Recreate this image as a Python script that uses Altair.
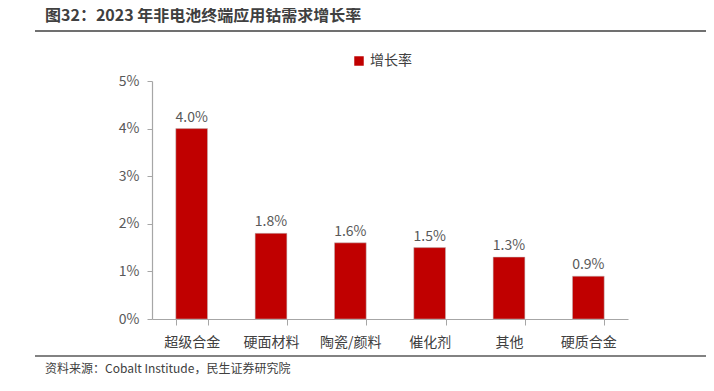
import altair as alt
import pandas as pd

categories = ["超级合金", "硬面材料", "陶瓷/颜料", "催化剂", "其他", "硬质合金"]
values = [0.040, 0.018, 0.016, 0.015, 0.013, 0.009]
labels = ["4.0%", "1.8%", "1.6%", "1.5%", "1.3%", "0.9%"]
series_name = "增长率"
title_text = "图32：2023 年非电池终端应用钴需求增长率"
source_text = "资料来源：Cobalt Institude，民生证券研究院"
y_ticks = [0, 0.01, 0.02, 0.03, 0.04, 0.05]

df = pd.DataFrame({"cat": categories, "val": values, "lab": labels, "series": [series_name] * len(categories)})

FONT = "Noto Sans CJK SC"
W, H = 476, 238

x = alt.X("cat:N", sort=categories, title=None,
          scale=alt.Scale(paddingInner=0.6, paddingOuter=0.3),
          axis=alt.Axis(labelAngle=0, labelFontSize=14, labelColor="#404040", labelFont=FONT,
                        labelPadding=10, domainColor="#a6a6a6", tickColor="#a6a6a6",
                        tickBand="extent", tickSize=6, domainWidth=1.2))
y = alt.Y("val:Q", title=None,
          scale=alt.Scale(domain=[0, 0.05], nice=False),
          axis=alt.Axis(values=y_ticks, format=".0%", grid=False, labelFontSize=14,
                        labelColor="#595959", labelFont=FONT, domainColor="#a6a6a6",
                        tickColor="#a6a6a6", tickSize=5, labelPadding=8, domainWidth=1.2))

bars = alt.Chart(df).mark_bar(color="#C00000", stroke="#bfbfbf", strokeWidth=0.5).encode(
    x=x, y=y,
    color=alt.Color("series:N", scale=alt.Scale(range=["#C00000"]), title=None,
                    legend=alt.Legend(orient="none", legendX=200, legendY=-27,
                                      symbolType="square", symbolSize=90, symbolStrokeWidth=0,
                                      labelFontSize=14, labelColor="#404040", labelFont=FONT)),
)

text = alt.Chart(df).mark_text(baseline="bottom", dy=-4, fontSize=14, color="#595959", font=FONT).encode(
    x=alt.X("cat:N", sort=categories), y="val:Q", text="lab:N")

ann = pd.DataFrame({"t": [title_text]})
title = alt.Chart(ann).mark_text(align="left", baseline="middle", fontSize=16, fontWeight="bold",
                                 color="#404040", font=FONT).encode(
    x=alt.value(-107), y=alt.value(-65), text="t:N")

src = pd.DataFrame({"t": [source_text]})
source = alt.Chart(src).mark_text(align="left", baseline="middle", fontSize=12,
                                  color="#404040", font=FONT).encode(
    x=alt.value(-107), y=alt.value(288), text="t:N")

top_line = alt.Chart(ann).mark_rule(color="#404040", strokeWidth=1.5).encode(
    x=alt.value(-117), x2=alt.value(560), y=alt.value(-50))
bot_line = alt.Chart(ann).mark_rule(color="#595959", strokeWidth=1.5).encode(
    x=alt.value(-117), x2=alt.value(560), y=alt.value(275))

chart = alt.layer(bars, text, title, source, top_line, bot_line).properties(
    width=W, height=H,
    autosize=alt.AutoSizeParams(type="none"),
    padding={"left": 144, "top": 73, "right": 78, "bottom": 64},
    background="white",
).configure_view(stroke=None)

chart.save("out.html", embed_options={"renderer": "svg", "actions": False})
